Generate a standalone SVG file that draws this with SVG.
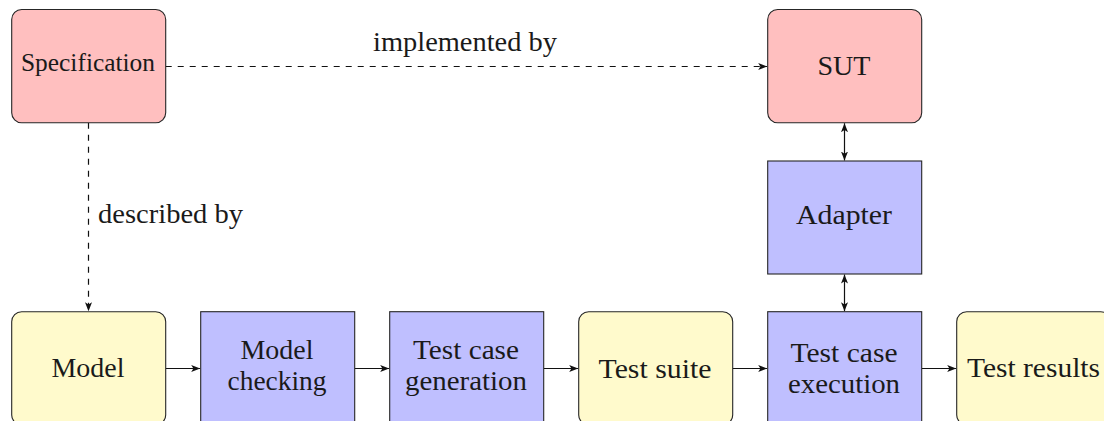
<svg xmlns="http://www.w3.org/2000/svg" width="1104" height="421" viewBox="0 0 1104 421">
  <style>
    .box { stroke: #262626; stroke-width: 1.1; }
    .red { fill: #ffbfbf; }
    .blue { fill: #bfbfff; }
    .yellow { fill: #fffacc; }
    .lbls text { font-size: 27px; fill: #1a1a1a; text-anchor: middle; }
    .lbls .small { font-size: 25px; }
    .edge { stroke: #111111; stroke-width: 1.2; fill: none; }
    .dash { stroke-dasharray: 6 6; }
  </style>
  <defs>
    <marker id="tip" markerUnits="userSpaceOnUse" markerWidth="10" markerHeight="8" refX="9" refY="3.5" orient="auto-start-reverse">
      <path d="M0,0 L9,3.5 L0,7 L2.2,3.5 Z" fill="#111111"/>
    </marker>
  </defs>

  <rect width="1104" height="421" fill="#ffffff"/>

  <g class="lbls" font-family="'Liberation Serif', 'Times New Roman', Times, serif">
  <!-- connectors -->
  <g id="connectors">
    <path class="edge dash" d="M165.7,66.5 H767.2" marker-end="url(#tip)"/>
    <path class="edge dash" d="M88.5,122.7 V311.2" marker-end="url(#tip)"/>
    <path class="edge" d="M844.5,123.2 V160.5" marker-start="url(#tip)" marker-end="url(#tip)"/>
    <path class="edge" d="M844.5,274.5 V311.2" marker-start="url(#tip)" marker-end="url(#tip)"/>
    <path class="edge" d="M165.7,368.5 H200.2" marker-end="url(#tip)"/>
    <path class="edge" d="M354.7,368.5 H389.2" marker-end="url(#tip)"/>
    <path class="edge" d="M543.7,368.5 H578.2" marker-end="url(#tip)"/>
    <path class="edge" d="M732.7,368.5 H767.2" marker-end="url(#tip)"/>
    <path class="edge" d="M921.7,368.5 H956.2" marker-end="url(#tip)"/>
    <text x="465" y="51" textLength="184" lengthAdjust="spacingAndGlyphs">implemented by</text>
    <text x="98" y="223" style="text-anchor:start" textLength="145" lengthAdjust="spacingAndGlyphs">described by</text>
  </g>

  <!-- nodes -->
  <g id="specification">
    <rect class="box red" x="11.7" y="9.5" width="154" height="113.2" rx="10"/>
    <text class="small" x="88" y="71" textLength="134" lengthAdjust="spacingAndGlyphs">Specification</text>
  </g>
  <g id="sut">
    <rect class="box red" x="767.7" y="9.5" width="154" height="113.2" rx="10"/>
    <text x="844" y="75" textLength="53" lengthAdjust="spacingAndGlyphs">SUT</text>
  </g>
  <g id="adapter">
    <rect class="box blue" x="767.7" y="161" width="154" height="113"/>
    <text x="844" y="224" textLength="96" lengthAdjust="spacingAndGlyphs">Adapter</text>
  </g>
  <g id="model">
    <rect class="box yellow" x="11.7" y="311.7" width="154" height="113.2" rx="10"/>
    <text x="88" y="377.3" textLength="73" lengthAdjust="spacingAndGlyphs">Model</text>
  </g>
  <g id="model-checking">
    <rect class="box blue" x="200.7" y="311.7" width="154" height="113.2"/>
    <text x="277" y="359.3" textLength="73" lengthAdjust="spacingAndGlyphs">Model</text>
    <text x="277" y="390" textLength="99" lengthAdjust="spacingAndGlyphs">checking</text>
  </g>
  <g id="test-case-generation">
    <rect class="box blue" x="389.7" y="311.7" width="154" height="113.2"/>
    <text x="466" y="359.3" textLength="106" lengthAdjust="spacingAndGlyphs">Test case</text>
    <text x="466" y="390" textLength="122" lengthAdjust="spacingAndGlyphs">generation</text>
  </g>
  <g id="test-suite">
    <rect class="box yellow" x="578.7" y="311.7" width="154" height="113.2" rx="10"/>
    <text x="655" y="377.5" textLength="113" lengthAdjust="spacingAndGlyphs">Test suite</text>
  </g>
  <g id="test-case-execution">
    <rect class="box blue" x="767.7" y="311.7" width="154" height="113.2"/>
    <text x="844" y="361.5" textLength="107" lengthAdjust="spacingAndGlyphs">Test case</text>
    <text x="844" y="393" textLength="112" lengthAdjust="spacingAndGlyphs">execution</text>
  </g>
  <g id="test-results">
    <rect class="box yellow" x="956.7" y="311.7" width="154" height="113.2" rx="10"/>
    <text x="1033.5" y="377.3" textLength="133" lengthAdjust="spacingAndGlyphs">Test results</text>
  </g>
  </g>
</svg>
